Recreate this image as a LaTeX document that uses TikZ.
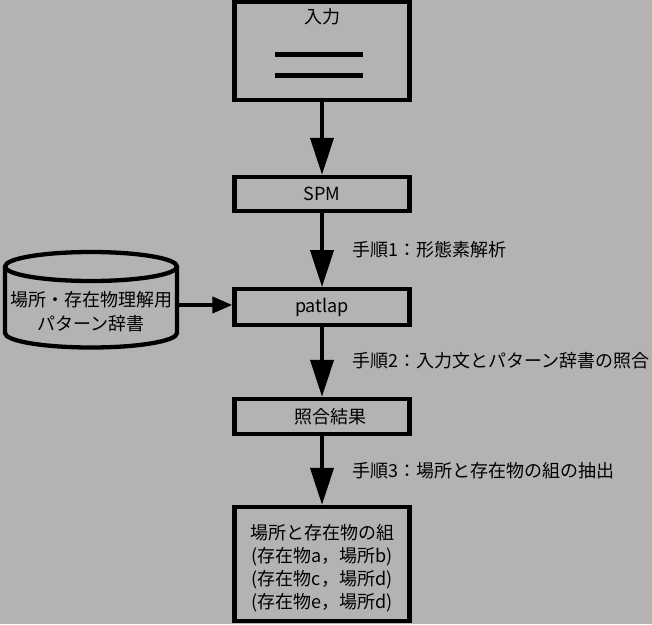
\documentclass[tikz,border=0pt]{standalone}
\usepackage{fontspec}
\setmainfont{Noto Sans CJK JP}
\usetikzlibrary{arrows.meta}
\definecolor{bg}{HTML}{B3B3B3}
\begin{document}
\begin{tikzpicture}[x=1pt,y=-1pt,
  every node/.style={font=\fontsize{18pt}{23pt}\selectfont},
  box/.style={draw, line width=4.3pt, fill=bg, minimum width=175pt, inner sep=0pt},
  txt/.style={inner sep=0pt},
  flow/.style={line width=4pt, -{Triangle[length=37pt,width=23pt]}},
  feed/.style={line width=4pt, -{Triangle[length=20pt,width=16pt]}},
  rule/.style={line width=4.3pt}
]
\fill[bg] (0,0) rectangle (652,624);
\useasboundingbox (0,0) rectangle (652,624);

% input box
\node[box, minimum height=98pt] (in) at (322,51) {};
\node[txt] (inlbl) at (322,17) {入力};
\draw[rule] (275,54.5) -- (363,54.5);
\draw[rule] (275,75.5) -- (363,75.5);

\node[box, minimum height=34pt] (spm) at (322,194) {SPM};
\node[box, minimum height=35.5pt] (pat) at (322,307) {patlap};
\node[box, minimum height=35pt] (mat) at (322,416.5) {\hspace*{17pt}照合結果};
\node[box, minimum height=114pt, align=center] (res) at (322,564)
  {\rule{0pt}{23pt}場所と存在物の組\\(存在物a，場所b)\\(存在物c，場所d)\\(存在物e，場所d)};

% dictionary cylinder
\draw[rule, fill=bg] (5,266.5) -- (5,333)
  arc[start angle=180, end angle=360, x radius=86pt, y radius=14.5pt]
  -- (177,266.5)
  arc[start angle=0, end angle=180, x radius=86pt, y radius=14.5pt] -- cycle;
\draw[rule] (5,266.5) arc[start angle=180, end angle=360, x radius=86pt, y radius=14.5pt];
\node[txt, align=center, font=\fontsize{18pt}{24pt}\selectfont] (db) at (91,311.5)
  {場所・存在物理解用\\パターン辞書};
\coordinate (dbout) at (177,305);

% connectors
\draw[flow] (in) -- (spm);
\draw[flow] (spm) -- (pat);
\draw[flow] (pat) -- (mat);
\draw[flow] (mat) -- (res);
\draw[feed] (dbout) -- (pat.west |- dbout);

% step labels
\node[txt, anchor=west] (s1) at (352,250) {手順1：形態素解析};
\node[txt, anchor=west] (s2) at (352,361) {手順2：入力文とパターン辞書の照合};
\node[txt, anchor=west] (s3) at (352,471) {手順3：場所と存在物の組の抽出};
\end{tikzpicture}
\end{document}
